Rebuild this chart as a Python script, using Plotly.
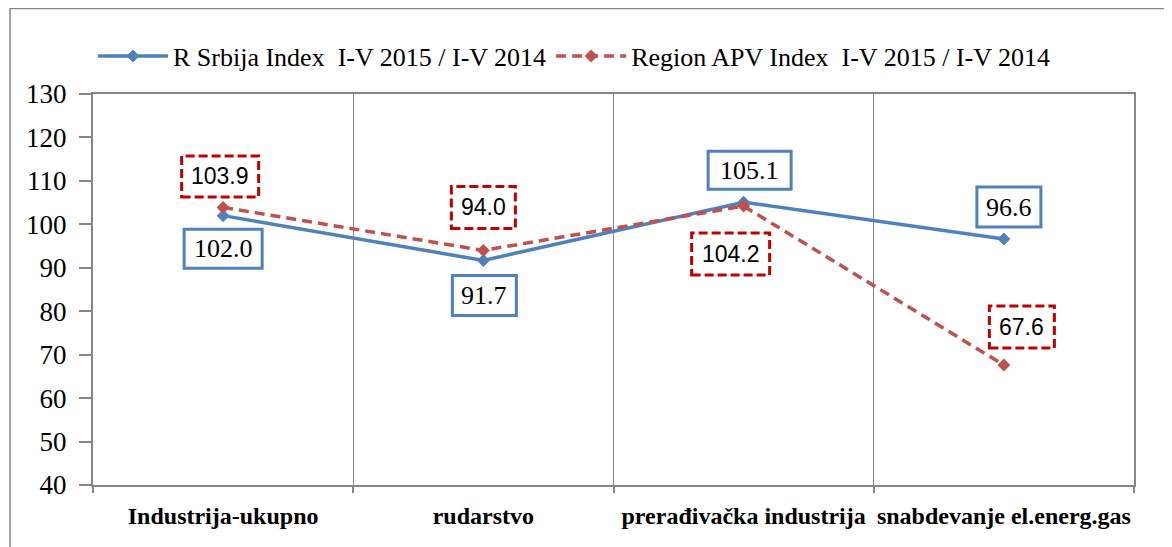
import plotly.graph_objects as go

categories = ["Industrija-ukupno", "rudarstvo", "prerađivačka industrija", "snabdevanje el.energ.gas"]
srbija_values = [102.0, 91.7, 105.1, 96.6]
apv_values = [103.9, 94.0, 104.2, 67.6]
srbija_name = "R Srbija Index  I-V 2015 / I-V 2014"
apv_name = "Region APV Index  I-V 2015 / I-V 2014"
y_ticks = [40, 50, 60, 70, 80, 90, 100, 110, 120, 130]

# label box placement (pixel offsets from the point: dx, dy(up), width, height)
srbija_boxes = [(0, -33, 78, 39), (1, -35, 64, 40), (6, 32, 83, 38), (5, 32, 64, 40)]
apv_boxes = [(-3, 31, 77, 41), (0, 43, 64, 42), (-13, -48, 78, 42), (18, 38, 65, 42)]

BLUE = "#4f81bd"
RED = "#c0504d"
DARKRED = "#c00000"
GRAY = "#868686"
SERIF = "Liberation Serif"
SANS = "Liberation Sans"

fig = go.Figure()
fig.add_trace(go.Scatter(
    x=categories, y=srbija_values, name=srbija_name, mode="lines+markers",
    line=dict(color=BLUE, width=3.5),
    marker=dict(symbol="diamond", size=10, color=BLUE),
))
fig.add_trace(go.Scatter(
    x=categories, y=apv_values, name=apv_name, mode="lines+markers",
    line=dict(color=RED, width=3.5, dash="10px,6px"),
    marker=dict(symbol="diamond", size=10, color=RED),
))

shapes = []
annotations = []

def add_labels(values, boxes, color, dash, font):
    for i, (v, (dx, dy, w, h)) in enumerate(zip(values, boxes)):
        shapes.append(dict(
            type="rect", xref="x", yref="y", xsizemode="pixel", ysizemode="pixel",
            xanchor=i, yanchor=v,
            x0=dx - w / 2, x1=dx + w / 2, y0=dy - h / 2, y1=dy + h / 2,
            line=dict(color=color, width=3, dash=dash),
            fillcolor="white", layer="above",
        ))
        annotations.append(dict(
            x=categories[i], y=v, xref="x", yref="y", text=f"{v:.1f}",
            showarrow=False, xshift=dx, yshift=dy,
            font=font,
        ))

add_labels(srbija_values, srbija_boxes, BLUE, "solid", dict(family=SERIF, size=26, color="black"))
add_labels(apv_values, apv_boxes, DARKRED, "9px,4px", dict(family=SANS, size=23, color="black"))

# outer chart frame
shapes.append(dict(
    type="rect", xref="paper", yref="paper",
    x0=-0.0797, x1=1.06, y0=-0.25, y1=1.2187,
    line=dict(color=GRAY, width=1.5), fillcolor="rgba(0,0,0,0)", layer="below",
))

fig.update_layout(
    width=1172, height=547,
    margin=dict(l=85, r=46, t=86, b=70),
    paper_bgcolor="white", plot_bgcolor="white",
    showlegend=True,
    legend=dict(
        orientation="h", x=0.0, xanchor="left", y=1.097, yanchor="middle",
        font=dict(family=SERIF, size=26, color="black"),
        itemwidth=70, bgcolor="rgba(0,0,0,0)",
    ),
    shapes=shapes,
    annotations=annotations,
)

fig.update_xaxes(
    type="category", categoryorder="array", categoryarray=categories,
    range=[-0.5, 3.5], tickson="boundaries",
    showgrid=True, gridcolor=GRAY, gridwidth=1,
    ticks="outside", ticklen=6, tickcolor=GRAY, tickwidth=1.5,
    showline=True, linecolor=GRAY, linewidth=2, mirror=True,
    tickfont=dict(family=SERIF, size=24, color="black", weight="bold"),
    ticklabelstandoff=8, tickangle=0, automargin=False,
)
fig.update_yaxes(
    range=[40, 130], tickvals=y_ticks, showgrid=False, zeroline=False,
    ticks="outside", ticklen=12, tickcolor=GRAY, tickwidth=1.5,
    showline=True, linecolor=GRAY, linewidth=2, mirror=True,
    tickfont=dict(family=SERIF, size=27, color="black"),
    ticklabelstandoff=7, automargin=False,
)

fig.write_html("out.html")
